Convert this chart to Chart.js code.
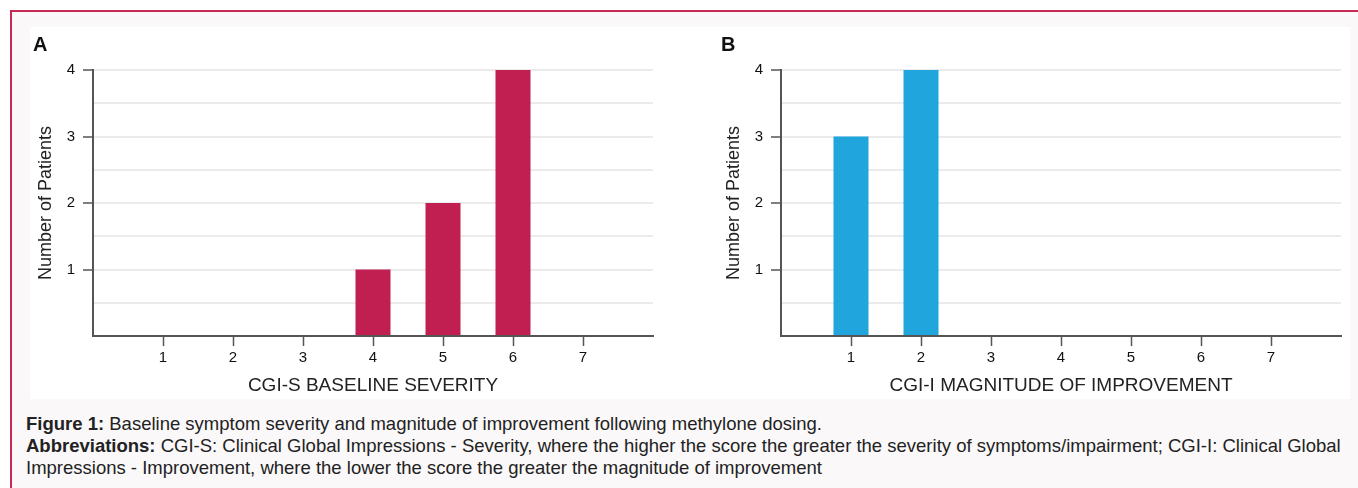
<!DOCTYPE html>
<html>
<head>
<meta charset="utf-8">
<script src="https://cdn.jsdelivr.net/npm/chart.js@4"></script>
<style>
  body { margin: 0; background: #fff; width: 1358px; height: 488px; overflow: hidden; position: relative; font-family: "Liberation Sans", Arial, sans-serif; }
  #frame { position: absolute; left: 10px; top: 10px; width: 1400px; height: 500px; border-left: 2px solid #c62a55; border-top: 2px solid #c62a55; background: #faf8f9; }
  #panel { position: absolute; left: 30px; top: 27px; width: 1320px; height: 372px; background: #fff; }
  .box { position: absolute; top: 27px; height: 372px; }
  #caption { position: absolute; left: 26px; top: 413px; width: 1328px; font-size: 18.5px; line-height: 22px; color: #222; }
</style>
</head>
<body>
<div id="frame"></div>
<div id="panel"></div>
<div class="box" style="left:30px;width:650px"><canvas id="chartA"></canvas></div>
<div class="box" style="left:718px;width:632px"><canvas id="chartB"></canvas></div>
<div id="caption">
  <b>Figure 1:</b> Baseline symptom severity and magnitude of improvement following methylone dosing.<br>
  <b>Abbreviations:</b> CGI-S: Clinical Global Impressions - Severity, where the higher the score the greater the severity of symptoms/impairment; CGI-I: Clinical Global Impressions - Improvement, where the lower the score the greater the magnitude of improvement
</div>
<script>
// scores on the x axis
var scores = [1, 2, 3, 4, 5, 6, 7]
// number of patients per score
var severityCounts = [0, 0, 0, 1, 2, 4, 0]
var improvementCounts = [3, 4, 0, 0, 0, 0, 0]
var yTicks = [1, 2, 3, 4]

var axisColor = '#555555'
var fontFamily = '"Liberation Sans", Arial, sans-serif'

function makeChart(id, letter, xTitle, counts, color, rightPad) {
  let ctx = document.getElementById(id).getContext('2d')
  return new Chart(ctx, {
    type: 'bar',
    data: {
      datasets: [{
        label: xTitle,
        data: scores.map((s, i) => ({ x: s, y: counts[i] })),
        backgroundColor: color,
        borderWidth: 0,
        categoryPercentage: 1,
        barPercentage: 0.5
      }]
    },
    options: {
      responsive: true,
      maintainAspectRatio: false,
      animation: false,
      layout: { padding: { left: 3, right: rightPad, top: 0, bottom: 0 } },
      plugins: {
        legend: { display: false },
        tooltip: { enabled: false },
        title: {
          display: true,
          text: letter,
          align: 'start',
          color: '#111',
          font: { family: fontFamily, size: 20, weight: 'bold' },
          padding: { top: 6, bottom: 13 }
        }
      },
      scales: {
        x: {
          type: 'linear',
          min: 0,
          max: scores.length + 1,
          offset: false,
          afterFit: (s) => { s.height = 63 },
          ticks: {
            stepSize: 1,
            autoSkip: false,
            maxRotation: 0,
            padding: 3,
            color: '#111',
            font: { family: fontFamily, size: 15 },
            callback: (v) => scores.includes(v) ? String(v) : ''
          },
          grid: {
            offset: false,
            drawOnChartArea: false,
            tickLength: 10,
            tickWidth: 1.5,
            color: 'rgba(0,0,0,0)',
            tickColor: (c) => (c.tick && scores.includes(c.tick.value)) ? axisColor : 'rgba(0,0,0,0)'
          },
          border: { display: true, color: axisColor, width: 2 },
          title: {
            display: true,
            text: xTitle,
            color: '#222',
            font: { family: fontFamily, size: 19 },
            padding: { top: 0, bottom: 2 }
          }
        },
        y: {
          min: 0,
          max: 4,
          afterFit: (s) => { s.width = 60 },
          ticks: {
            stepSize: 0.5,
            autoSkip: false,
            padding: 8,
            color: '#111',
            font: { family: fontFamily, size: 15 },
            callback: (v) => yTicks.includes(v) ? String(v) : ''
          },
          grid: {
            tickLength: 10,
            lineWidth: 2,
            tickWidth: 1.5,
            color: (c) => (c.tick && c.tick.value === 0) ? 'rgba(0,0,0,0)' : '#ebebeb',
            tickColor: (c) => (c.tick && yTicks.includes(c.tick.value)) ? axisColor : 'rgba(0,0,0,0)'
          },
          border: { display: true, color: axisColor, width: 2 },
          title: {
            display: true,
            text: 'Number of Patients',
            color: '#222',
            font: { family: fontFamily, size: 18 },
            padding: { top: 2, bottom: 0 }
          }
        }
      }
    }
  })
}

makeChart('chartA', 'A', 'CGI-S BASELINE SEVERITY', severityCounts, '#c11f51', 27)
makeChart('chartB', 'B', 'CGI-I MAGNITUDE OF IMPROVEMENT', improvementCounts, '#20a5dd', 9)
</script>
</body>
</html>
